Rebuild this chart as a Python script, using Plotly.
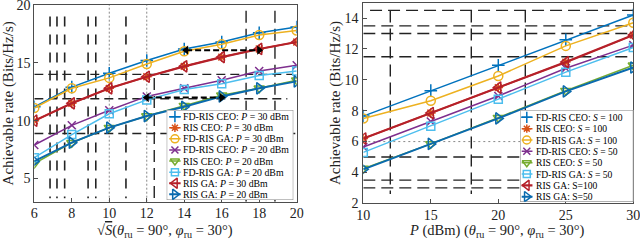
import plotly.graph_objects as go

# ---------------- data ----------------
x_left = [6, 8, 10, 12, 14, 16, 18, 20]
fdris_ceo_p30 = [11.2, 12.9, 14.1, 15.2, 16.2, 16.8, 17.6, 18.1]
ris_ceo_p30 = [10.0, 11.5, 12.8, 13.8, 14.7, 15.5, 16.2, 16.8]
fdris_ga_p30 = [11.1, 12.8, 13.7, 14.9, 16.0, 16.6, 17.4, 17.8]
fdris_ceo_p20 = [7.9, 9.6, 10.9, 12.1, 12.8, 13.5, 14.3, 14.8]
ris_ceo_p20 = [6.3, 8.1, 9.4, 10.4, 11.3, 12.2, 12.8, 13.5]
fdris_ga_p20 = [6.8, 8.8, 10.6, 11.8, 12.7, 13.2, 13.9, 14.3]
ris_ga_p30 = [10.0, 11.5, 12.8, 13.8, 14.7, 15.5, 16.2, 16.8]
ris_ga_p20 = [6.5, 8.1, 9.4, 10.4, 11.2, 12.1, 12.8, 13.4]

x_right = [10, 15, 20, 25, 30]
fdris_ceo_s100 = [7.65, 9.3, 10.95, 12.6, 14.2]
ris_ceo_s100 = [6.2, 7.85, 9.5, 11.15, 12.9]
fdris_ga_s100 = [7.5, 8.65, 10.25, 12.2, 13.7]
fdris_ceo_s50 = [5.65, 7.3, 8.95, 10.75, 12.25]
ris_ceo_s50 = [4.25, 5.85, 7.55, 9.3, 10.95]
fdris_ga_s50 = [5.3, 7.0, 8.75, 10.5, 12.1]
ris_ga_s100 = [6.2, 7.85, 9.5, 11.15, 12.9]
ris_ga_s50 = [4.2, 5.85, 7.5, 9.25, 10.8]

left_names = ["FD-RIS CEO: <i>P</i> = 30 dBm", "RIS CEO: <i>P</i> = 30 dBm",
              "FD-RIS GA: <i>P</i> = 30 dBm", "FD-RIS CEO: <i>P</i> = 20 dBm",
              "RIS CEO: <i>P</i> = 20 dBm", "FD-RIS GA: <i>P</i> = 20 dBm",
              "RIS GA: <i>P</i> = 30 dBm", "RIS GA: <i>P</i> = 20 dBm"]
right_names = ["FD-RIS CEO: <i>S</i> = 100", "RIS CEO: <i>S</i> = 100",
               "FD-RIS GA: <i>S</i> = 100", "FD-RIS CEO: <i>S</i> = 50",
               "RIS CEO: <i>S</i> = 50", "FD-RIS GA: <i>S</i> = 50",
               "RIS GA: S=100", "RIS GA: S=50"]
left_series = [fdris_ceo_p30, ris_ceo_p30, fdris_ga_p30, fdris_ceo_p20,
               ris_ceo_p20, fdris_ga_p20, ris_ga_p30, ris_ga_p20]
right_series = [fdris_ceo_s100, ris_ceo_s100, fdris_ga_s100, fdris_ceo_s50,
                ris_ceo_s50, fdris_ga_s50, ris_ga_s100, ris_ga_s50]

xt_left = [6, 8, 10, 12, 14, 16, 18, 20]
yt_left = [5, 10, 15, 20]
xt_right = [10, 15, 20, 25, 30]
yt_right = [2, 4, 6, 8, 10, 12, 14]

left_xtitle = "√<span style='text-decoration:overline'><i>S</i></span>(<i>θ</i><sub>ru</sub> = 90°, <i>φ</i><sub>ru</sub> = 30°)"
right_xtitle = "<i>P</i> (dBm) (<i>θ</i><sub>ru</sub> = 90°, <i>φ</i><sub>ru</sub> = 30°)"
ytitle = "Achievable rate (Bits/Hz/s)"

# arrows (left panel): [x_start, x_end, y]
arrows = [[14.1, 18.0, 16.1], [12.0, 16.0, 12.0]]

# ---------------- styles ----------------
colors = ["#0072BD", "#D95319", "#EDB120", "#7E2F8E", "#77AC30", "#4DBEEE", "#B5202A", "#0A6AAE"]
symbols = ["cross-thin-open", "asterisk-open", "circle-open", "x-thin-open",
           "triangle-down-open", "square-open", "triangle-left-open", "triangle-right-open"]
msizes = [9, 8, 9, 8, 9, 8, 10, 10]
lwidths = [1.5, 1.5, 1.5, 1.5, 1.5, 1.5, 2.2, 2.0]

FONT = "Liberation Serif"

fig = go.Figure()

def add_series(xs, series, names, xa, ya):
    for i, ys in enumerate(series):
        fig.add_trace(go.Scatter(
            x=xs, y=ys, mode="lines+markers", name=names[i], showlegend=False,
            xaxis=xa, yaxis=ya,
            line=dict(color=colors[i], width=lwidths[i]),
            marker=dict(symbol=symbols[i], size=msizes[i], color=colors[i],
                        line=dict(color=colors[i], width=1.5))))

# decorative dashed lines as in the reference
left_vshort = [6.84, 7.21, 7.62, 8.87, 9.28, 10.89]
left_vdot = [10, 12]
left_vlong = [[12.4, 3.0, 13.7], [17.3, 3.0, 19.5], [18.84, 3.0, 19.5]]
left_hdash = [[14.0, 6, 19.8], [11.9, 6, 19.5], [8.9, 6, 20]]
right_hdash = [[14.5, 10.5, 30], [13.5, 10, 30], [13.0, 10, 30], [11.5, 10, 30],
               [5.0, 10, 30], [3.5, 10, 30], [3.0, 10, 30]]
right_hdot = [6.0]
right_vdash = [[12, 2.6, 14.5], [18, 2.6, 14.5], [22, 2.6, 14.5]]

shapes = []
for xv in left_vshort:
    shapes.append(dict(type="line", xref="x", yref="y", x0=xv, x1=xv, y0=19.0, y1=3.3,
                       line=dict(color="#222", width=1.6, dash="10px,8px"), layer="below"))
for xv in left_vdot:
    shapes.append(dict(type="line", xref="x", yref="y", x0=xv, x1=xv, y0=3, y1=20,
                       line=dict(color="#888", width=1, dash="2px,2px"), layer="below"))
for xv, y0, y1 in left_vlong:
    shapes.append(dict(type="line", xref="x", yref="y", x0=xv, x1=xv, y0=y1, y1=y0,
                       line=dict(color="#222", width=1.4, dash="12px,6px"), layer="below"))
for yv, x0, x1 in left_hdash:
    shapes.append(dict(type="line", xref="x", yref="y", x0=x0, x1=x1, y0=yv, y1=yv,
                       line=dict(color="#222", width=1.4, dash="9px,5px"), layer="below"))
for yv, x0, x1 in right_hdash:
    shapes.append(dict(type="line", xref="x2", yref="y2", x0=x0, x1=x1, y0=yv, y1=yv,
                       line=dict(color="#222", width=1.4, dash="12px,6px"), layer="below"))
for yv in right_hdot:
    shapes.append(dict(type="line", xref="x2", yref="y2", x0=10, x1=30, y0=yv, y1=yv,
                       line=dict(color="#888", width=1, dash="2px,3px"), layer="below"))
for xv, y0, y1 in right_vdash:
    shapes.append(dict(type="line", xref="x2", yref="y2", x0=xv, x1=xv, y0=y1, y1=y0,
                       line=dict(color="#222", width=1.4, dash="12px,6px"), layer="below"))

add_series(x_left, left_series, left_names, "x", "y")
add_series(x_right, right_series, right_names, "x2", "y2")

# arrows
for xs0, xs1, yv in arrows:
    fig.add_trace(go.Scatter(x=[xs0, xs1], y=[yv, yv], mode="lines+markers", showlegend=False,
                             xaxis="x", yaxis="y",
                             line=dict(color="black", width=2, dash="6px,3px"),
                             marker=dict(symbol=["triangle-left", "triangle-right"], size=8, color="black")))

# ---------------- custom legends (drawn on hidden axes) ----------------
annotations = []
def add_legend(names, xa, ya, lx0, lx1, mx, tx, top, step, fsize):
    fig.add_trace(go.Scatter(x=[0, 1, 1, 0, 0], y=[0, 0, 1, 1, 0], mode="lines", fill="toself",
                             fillcolor="white", line=dict(color="#7f7f7f", width=1),
                             xaxis=xa, yaxis=ya, showlegend=False, hoverinfo="skip"))
    for i, nm in enumerate(names):
        yi = 1 - (top + i * step)
        fig.add_trace(go.Scatter(x=[lx0, lx1], y=[yi, yi], mode="lines", xaxis=xa, yaxis=ya,
                                 line=dict(color=colors[i], width=lwidths[i]), showlegend=False,
                                 hoverinfo="skip"))
        fig.add_trace(go.Scatter(x=[mx], y=[yi], mode="markers", xaxis=xa, yaxis=ya,
                                 marker=dict(symbol=symbols[i], size=msizes[i] - 1, color=colors[i],
                                             line=dict(color=colors[i], width=1.5)),
                                 showlegend=False, hoverinfo="skip"))
        annotations.append(dict(x=tx, y=yi, xref=xa, yref=ya, text=nm, showarrow=False,
                                xanchor="left", yanchor="middle",
                                font=dict(family=FONT, size=fsize, color="black")))

add_legend(left_names, "x3", "y3", 0.02, 0.11, 0.065, 0.11, 0.074, 0.1233, 9.8)
add_legend(right_names, "x4", "y4", 0.015, 0.11, 0.06, 0.12, 0.08, 0.1236, 9.6)

# axis titles as annotations (paper coordinates)
annotations.append(dict(x=165 / 640, y=1 - 231 / 240, xref="paper", yref="paper", text=left_xtitle,
                        showarrow=False, xanchor="center", yanchor="middle",
                        font=dict(family=FONT, size=14.5, color="#222")))
annotations.append(dict(x=497 / 640, y=1 - 231 / 240, xref="paper", yref="paper", text=right_xtitle,
                        showarrow=False, xanchor="center", yanchor="middle",
                        font=dict(family=FONT, size=14.5, color="#222")))

axis_common = dict(showline=True, linecolor="#4d4d4d", linewidth=1, mirror=True,
                   ticks="inside", ticklen=4, tickcolor="#4d4d4d", showgrid=False, zeroline=False,
                   tickfont=dict(family=FONT, size=14, color="#222"), automargin=False,
                   ticklabeloverflow="allow")

fig.update_layout(
    width=640, height=240, margin=dict(l=0, r=0, t=0, b=0),
    paper_bgcolor="white", plot_bgcolor="white",
    font=dict(family=FONT, color="#222"),
    shapes=shapes, annotations=annotations,
    xaxis=dict(domain=[34.3 / 640, 296.7 / 640], range=[6, 20], tickvals=xt_left, anchor="y",
               ticklabelstandoff=-2, **axis_common),
    yaxis=dict(domain=[1 - 201.7 / 240, 1 - 5 / 240], range=[3, 20], tickvals=yt_left, anchor="x",
               title=dict(text=ytitle, font=dict(family=FONT, size=15), standoff=1),
               **axis_common),
    xaxis2=dict(domain=[363.3 / 640, 633.3 / 640], range=[10, 30], tickvals=xt_right, anchor="y2",
                ticklabelstandoff=-1, **axis_common),
    yaxis2=dict(domain=[1 - 203.3 / 240, 1 - 2.7 / 240], range=[2, 15], tickvals=yt_right, anchor="x2",
                ticklabelstandoff=1,
                title=dict(text=ytitle, font=dict(family=FONT, size=15), standoff=0),
                **axis_common),
    xaxis3=dict(domain=[166.7 / 640, 293.3 / 640], range=[0, 1], visible=False, anchor="y3"),
    yaxis3=dict(domain=[1 - 200 / 240, 1 - 110 / 240], range=[0, 1], visible=False, anchor="x3"),
    xaxis4=dict(domain=[520 / 640, 633.3 / 640], range=[0, 1], visible=False, anchor="y4"),
    yaxis4=dict(domain=[1 - 201.7 / 240, 1 - 110 / 240], range=[0, 1], visible=False, anchor="x4"),
)

fig.write_html("out.html", config={"displayModeBar": False},
               post_script="document.body.style.margin='0';document.body.style.overflow='hidden';")
